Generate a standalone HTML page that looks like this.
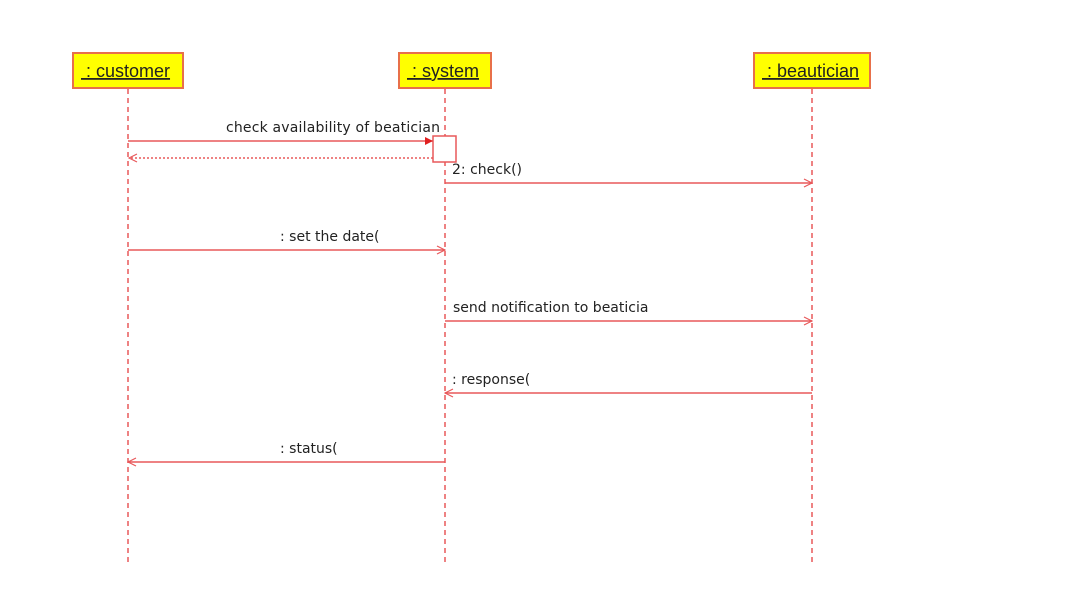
<!DOCTYPE html>
<html><head><style>body{margin:0;background:#fff}svg{display:block}text{font-family:"DejaVu Sans",sans-serif;font-size:14px;fill:#222}</style></head>
<body>
<svg width="1080" height="594" xmlns="http://www.w3.org/2000/svg">
<defs>
<marker id="o" markerWidth="10" markerHeight="10" refX="9" refY="5" orient="auto" markerUnits="userSpaceOnUse"><path d="M1,1 L9,5 L1,9" fill="none" stroke="#e8585a" stroke-width="1.2"/></marker>
<marker id="f" markerWidth="10" markerHeight="10" refX="9" refY="5" orient="auto" markerUnits="userSpaceOnUse"><path d="M1,1 L9,5 L1,9 Z" fill="#e02020"/></marker>
</defs>
<g stroke="#e8585a" stroke-width="1.5" stroke-dasharray="5,4">
<line x1="128" y1="89" x2="128" y2="563"/>
<line x1="445" y1="89" x2="445" y2="563"/>
<line x1="812" y1="89" x2="812" y2="563"/>
</g>
<g fill="#ffff00" stroke="#e8704a" stroke-width="2">
<rect x="73" y="53" width="110" height="35"/>
<rect x="399" y="53" width="92" height="35"/>
<rect x="754" y="53" width="116" height="35"/>
</g>
<text x="81" y="77" style="font-family:'Liberation Sans',sans-serif;font-size:18px" text-decoration="underline">&#160;: customer</text>
<text x="407" y="77" style="font-family:'Liberation Sans',sans-serif;font-size:18px" text-decoration="underline">&#160;: system</text>
<text x="762" y="77" style="font-family:'Liberation Sans',sans-serif;font-size:18px" text-decoration="underline">&#160;: beautician</text>
<rect x="433" y="136" width="23" height="26" fill="#fff" stroke="#e8585a" stroke-width="1.5"/>
<g stroke="#e8585a" stroke-width="1.5" fill="none">
<line x1="128" y1="141" x2="433" y2="141" marker-end="url(#f)"/>
<line x1="433" y1="158" x2="129" y2="158" stroke-dasharray="2,2" marker-end="url(#o)"/>
<line x1="445" y1="183" x2="812" y2="183" marker-end="url(#o)"/>
<line x1="128" y1="250" x2="445" y2="250" marker-end="url(#o)"/>
<line x1="445" y1="321" x2="812" y2="321" marker-end="url(#o)"/>
<line x1="812" y1="393" x2="445" y2="393" marker-end="url(#o)"/>
<line x1="445" y1="462" x2="128" y2="462" marker-end="url(#o)"/>
</g>
<text x="226" y="132" textLength="214">check availability of beatician</text>
<text x="452" y="174">2: check()</text>
<text x="280" y="241">: set the date(</text>
<text x="453" y="312">send notification to beaticia</text>
<text x="452" y="384">: response(</text>
<text x="280" y="453">: status(</text>
</svg>
</body></html>
